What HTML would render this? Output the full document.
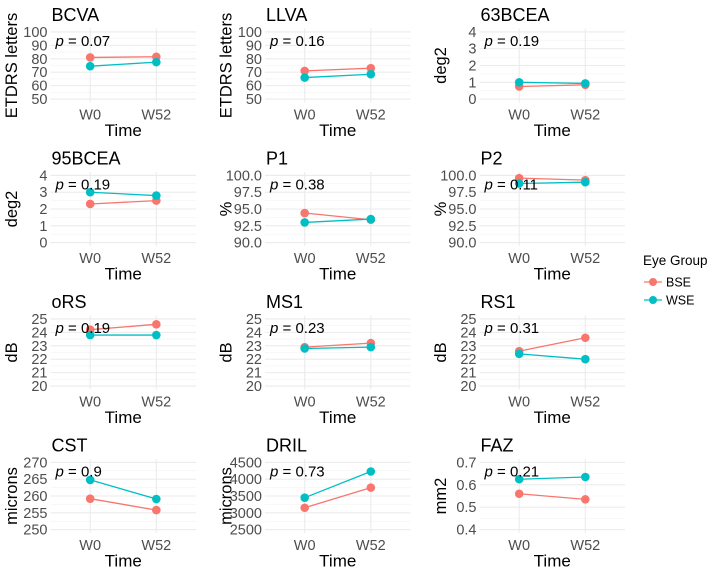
<!DOCTYPE html>
<html><head><meta charset="utf-8">
<style>
html,body{margin:0;padding:0;background:#fff;}
svg{display:block;font-family:"Liberation Sans",Arial,sans-serif;}
</style></head>
<body>
<svg id="chart" width="712" height="574" viewBox="0 0 712 574"></svg>
<script>
const titles = ["BCVA","LLVA","63BCEA","95BCEA","P1","P2","oRS","MS1","RS1","CST","DRIL","FAZ"];
const yTitles = ["ETDRS letters","ETDRS letters","deg2","deg2","%","%","dB","dB","dB","microns","microns","mm2"];
const pValues = ["0.07","0.16","0.19","0.19","0.38","0.11","0.19","0.23","0.31","0.9","0.73","0.21"];
const categories = ["W0","W52"];
const bseValues = [[81,81.5],[71,73],[0.75,0.85],[2.3,2.5],[94.4,93.4],[99.6,99.3],[24.2,24.6],[22.9,23.2],[22.6,23.6],[259.2,255.8],[3150,3750],[0.56,0.535]];
const wseValues = [[74.5,77.5],[66,68.5],[1.0,0.93],[3.0,2.8],[93.0,93.5],[98.8,99.0],[23.8,23.8],[22.8,22.9],[22.4,22.0],[264.8,259.1],[3450,4230],[0.625,0.635]];
const yTicks = [
 [50,60,70,80,90,100],[50,60,70,80,90,100],[0,1,2,3,4],
 [0,1,2,3,4],[90,92.5,95,97.5,100],[90,92.5,95,97.5,100],
 [20,21,22,23,24,25],[20,21,22,23,24,25],[20,21,22,23,24,25],
 [250,255,260,265,270],[2500,3000,3500,4000,4500],[0.4,0.5,0.6,0.7]];
const yTickLabels = [
 ["50","60","70","80","90","100"],["50","60","70","80","90","100"],["0","1","2","3","4"],
 ["0","1","2","3","4"],["90.0","92.5","95.0","97.5","100.0"],["90.0","92.5","95.0","97.5","100.0"],
 ["20","21","22","23","24","25"],["20","21","22","23","24","25"],["20","21","22","23","24","25"],
 ["250","255","260","265","270"],["2500","3000","3500","4000","4500"],["0.4","0.5","0.6","0.7"]];
const seriesNames = ["BSE","WSE"];
const seriesColors = ["#F8766D","#00BFC4"];

const NS="http://www.w3.org/2000/svg";
const svg=document.getElementById('chart');
function mk(tag,attrs,parent,text){const e=document.createElementNS(NS,tag);for(const k in attrs)e.setAttribute(k,attrs[k]);if(text!==undefined)e.textContent=text;(parent||svg).appendChild(e);return e;}

const colW=214.5, rowH=143.5;
for(let i=0;i<titles.length;i++){
  const col=i%3,row=Math.floor(i/3);
  const ox=col*colW, oy=row*rowH;
  const g=mk('g',{},svg);
  
  
  const L=ox+50.5,R=ox+196,T=oy+28.6,B=oy+102.4;
  const ticks=yTicks[i];
  const lo=ticks[0],hi=ticks[ticks.length-1],pad=(hi-lo)*0.05;
  const ys=v=>B-(v-(lo-pad))/((hi+pad)-(lo-pad))*(B-T);
  const xs=j=>L+(0.6+j)/2.2*(R-L);
  for(let k=0;k<ticks.length-1;k++){const m=(ticks[k]+ticks[k+1])/2;mk('line',{x1:L,x2:R,y1:ys(m),y2:ys(m),stroke:'#f2f2f2','stroke-width':0.6},g);}
  ticks.forEach((t,k)=>{
    mk('line',{x1:L,x2:R,y1:ys(t),y2:ys(t),stroke:'#ebebeb','stroke-width':1.1},g);
    const tl=mk('text',{x:L-3,y:ys(t)+5,'text-anchor':'end','font-size':14.5,fill:'#4d4d4d'},g,yTickLabels[i][k]);
    
    
  });
  categories.forEach((c,j)=>{
    mk('line',{x1:xs(j),x2:xs(j),y1:T,y2:B,stroke:'#ebebeb','stroke-width':1.1},g);
    const xl=mk('text',{x:xs(j),y:B+17,'text-anchor':'middle','font-size':14.5,fill:'#4d4d4d'},g,c);
    
    
  });
  const t=mk('text',{x:L+1,y:oy+21,'font-size':18,fill:'#000'},g,titles[i]);
  
  
  const xt=mk('text',{x:(L+R)/2,y:oy+136,'text-anchor':'middle','font-size':17,fill:'#000'},g,'Time');
  
  
  const yt=mk('text',{x:0,y:0,'text-anchor':'middle','font-size':16.5,fill:'#000',transform:`translate(${ox+17},${(T+B)/2}) rotate(-90)`},g,yTitles[i]);
  
  
  const series=[bseValues[i],wseValues[i]];
  series.forEach((vals,s)=>{
    const ln=mk('polyline',{points:vals.map((v,j)=>xs(j)+','+ys(v)).join(' '),fill:'none',stroke:seriesColors[s],'stroke-width':1.3},g);
    
    
    vals.forEach((v,j)=>{
      const p=mk('circle',{cx:xs(j),cy:ys(v),r:4.3,fill:seriesColors[s]},g);
      
      
    });
  });
  const pt=mk('text',{x:L+5,y:oy+46,'font-size':15,fill:'#000'},g);
  
  
  mk('tspan',{'font-style':'italic'},pt,'p');
  mk('tspan',{},pt,' = '+pValues[i]);
}
const lg=mk('g',{},svg);


mk('text',{x:643,y:265,'font-size':13.5,fill:'#000'},lg,'Eye Group');
seriesNames.forEach((n,s)=>{
  const y=282+s*18;
  const e=mk('g',{},lg);
  
  
  mk('line',{x1:644,x2:662,y1:y,y2:y,stroke:seriesColors[s],'stroke-width':1.3},e);
  mk('circle',{cx:653,cy:y,r:4,fill:seriesColors[s]},e);
  mk('text',{x:666,y:y+4.5,'font-size':12.5,fill:'#000'},e,n);
});
</script>
</body></html>
